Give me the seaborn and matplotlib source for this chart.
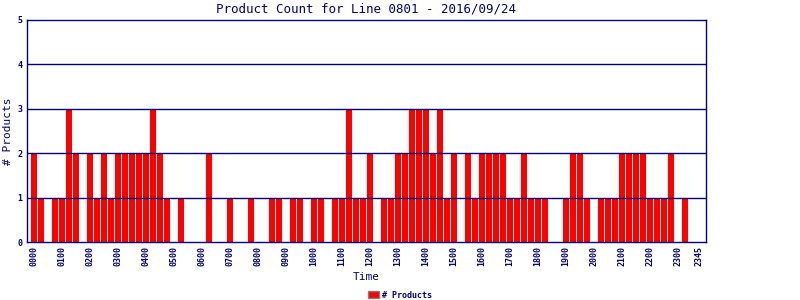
import matplotlib
matplotlib.use("Agg")
import matplotlib.pyplot as plt
import seaborn as sns
import pandas as pd
from matplotlib.patches import Patch

# 96 fifteen-minute slots from 0000 to 2345
times = [f"{h:02d}{m:02d}" for h in range(24) for m in (0, 15, 30, 45)]
counts = [
    2, 1, 0, 1, 1, 3, 2, 0,   # 00-01
    2, 1, 2, 1, 2, 2, 2, 2,   # 02-03
    2, 3, 2, 1, 0, 1, 0, 0,   # 04-05
    0, 2, 0, 0, 1, 0, 0, 1,   # 06-07
    0, 0, 1, 1, 0, 1, 1, 0,   # 08-09
    1, 1, 0, 1, 1, 3, 1, 1,   # 10-11
    2, 0, 1, 1, 2, 2, 3, 3,   # 12-13
    3, 2, 3, 1, 2, 0, 2, 1,   # 14-15
    2, 2, 2, 2, 1, 1, 2, 1,   # 16-17
    1, 1, 0, 0, 1, 2, 2, 1,   # 18-19
    0, 1, 1, 1, 2, 2, 2, 2,   # 20-21
    1, 1, 1, 2, 0, 1, 0, 0,   # 22-23
]
tick_labels = [f"{h:02d}00" for h in range(24)] + ["2345"]

title = "Product Count for Line 0801 - 2016/09/24"
navy = "#000080"

df = pd.DataFrame({"Time": times, "Products": counts})

sns.set_style("white")
plt.rcParams["font.family"] = ["DejaVu Sans Mono", "DejaVu Sans"]

fig = plt.figure(figsize=(8, 3), dpi=100)
ax = fig.add_axes([26.5 / 800, 1 - 242 / 300, 679 / 800, 222 / 300])

sns.barplot(data=df, x="Time", y="Products", order=times, color="#FF0000",
            saturation=1, width=0.86, ax=ax, linewidth=0)

ax.set_xlim(-1.07, 95.93)
ax.set_ylim(0, 5)
tick_pos = [times.index(t) for t in tick_labels]
ax.set_xticks(tick_pos)
ax.set_xticklabels(tick_labels, rotation=90, fontsize=6, color=navy, fontweight="bold")
ax.set_yticks(range(6))
ax.set_yticklabels([str(i) for i in range(6)], fontsize=6, color=navy, fontweight="bold")
ax.tick_params(axis="both", length=0, pad=3)

for y in range(1, 5):
    ax.axhline(y, color=navy, linewidth=1, zorder=3)
for s in ax.spines.values():
    s.set_color(navy)
    s.set_linewidth(1)
    s.set_visible(True)

ax.set_xlabel("Time", fontsize=8, color=navy)
ax.xaxis.set_label_coords(0.5, -(277 - 242) / 222)
ax.set_ylabel("# Products", fontsize=8, color=navy)
ax.yaxis.set_label_coords(-(26.5 - 8) / 679, 0.5)
ax.yaxis.label.set_va("center")
ax.xaxis.label.set_va("center")
fig.text(366 / 800, 1 - 9 / 300, title, ha="center", va="center",
         fontsize=9, color=navy)

handle = Patch(facecolor="#FF0000", edgecolor="#808080", linewidth=1)
leg = fig.legend([handle], ["# Products"], loc="center", bbox_to_anchor=(0.5, 1 - 295 / 300),
                 frameon=False, fontsize=6, handlelength=1.4, handleheight=0.9,
                 handletextpad=0.4, borderpad=0)
for t in leg.get_texts():
    t.set_color(navy)
    t.set_fontweight("bold")

fig.savefig("out.png", dpi=100)
